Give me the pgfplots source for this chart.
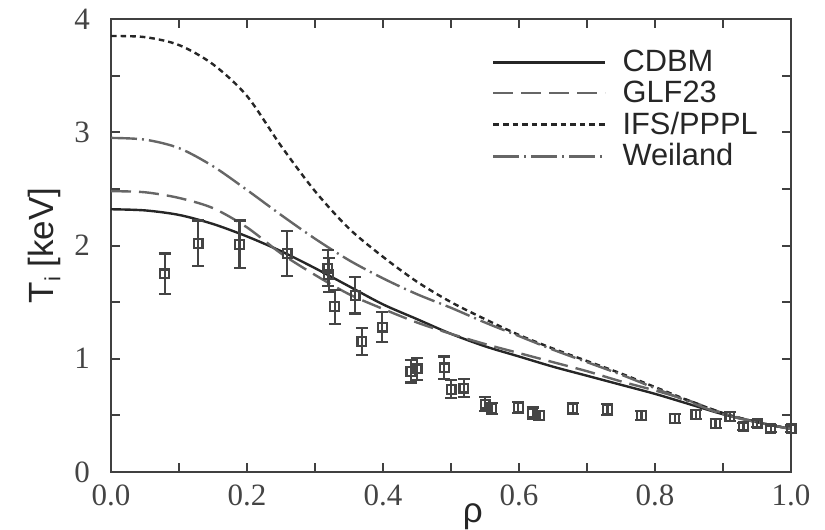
\documentclass[border=0pt]{standalone}
\usepackage{pgfplots}
\pgfplotsset{compat=1.18}
\usepackage{fontspec}
\setmainfont{Liberation Sans}
\newfontfamily\tickfont{Liberation Serif}
\definecolor{axgray}{HTML}{404040}
\definecolor{lblack}{HTML}{262626}
\definecolor{lgray}{HTML}{666666}
\definecolor{mgray}{HTML}{444444}

\pgfplotstableread{
x y
0.00 2.32
0.05 2.31
0.10 2.27
0.15 2.19
0.20 2.08
0.25 1.95
0.30 1.80
0.35 1.64
0.40 1.48
0.45 1.35
0.50 1.22
0.55 1.11
0.60 1.02
0.65 0.93
0.70 0.85
0.75 0.77
0.80 0.69
0.85 0.60
0.90 0.51
0.95 0.44
1.00 0.38
}\cdbm

\pgfplotstableread{
x y
0.00 2.48
0.05 2.47
0.10 2.42
0.15 2.33
0.20 2.16
0.25 1.93
0.30 1.74
0.35 1.57
0.40 1.44
0.45 1.32
0.50 1.22
0.55 1.13
0.60 1.05
0.65 0.97
0.70 0.89
0.75 0.80
0.80 0.72
0.85 0.63
0.90 0.52
0.95 0.44
1.00 0.38
}\glf

\pgfplotstableread{
x y
0.00 3.85
0.05 3.84
0.10 3.77
0.15 3.60
0.20 3.32
0.25 2.88
0.30 2.48
0.35 2.15
0.40 1.90
0.45 1.68
0.50 1.50
0.55 1.35
0.60 1.21
0.65 1.09
0.70 0.98
0.75 0.87
0.80 0.75
0.85 0.63
0.90 0.52
0.95 0.44
1.00 0.38
}\ifs

\pgfplotstableread{
x y
0.00 2.95
0.05 2.935
0.10 2.86
0.15 2.70
0.20 2.49
0.25 2.27
0.30 2.06
0.35 1.87
0.40 1.71
0.45 1.57
0.50 1.45
0.55 1.32
0.60 1.20
0.65 1.08
0.70 0.97
0.75 0.86
0.80 0.74
0.85 0.62
0.90 0.51
0.95 0.44
1.00 0.38
}\weiland

\pgfplotstableread{
x y e
0.079 1.75 0.18
0.128 2.02 0.20
0.189 2.01 0.21
0.259 1.93 0.20
0.319 1.80 0.16
0.320 1.74 0.15
0.329 1.46 0.15
0.359 1.56 0.16
0.369 1.15 0.12
0.399 1.28 0.13
0.441 0.89 0.10
0.450 0.91 0.10
0.490 0.92 0.10
0.500 0.73 0.08
0.519 0.74 0.08
0.550 0.60 0.06
0.560 0.56 0.05
0.599 0.57 0.05
0.620 0.52 0.05
0.630 0.50 0.04
0.679 0.56 0.05
0.730 0.55 0.05
0.780 0.50 0.04
0.829 0.47 0.04
0.860 0.51 0.04
0.889 0.43 0.04
0.910 0.49 0.04
0.930 0.40 0.03
0.950 0.43 0.03
0.970 0.38 0.03
1.000 0.38 0.03
}\meas

\begin{document}
\begin{tikzpicture}
\path[use as bounding box] (-55.5pt,-29pt) rectangle (357pt,236pt);
\begin{axis}[
  scale only axis, width=340pt, height=226.5pt,
  xmin=0, xmax=1, ymin=0, ymax=4,
  xtick={0,0.2,0.4,0.6,0.8,1.0},
  xticklabels={0.0,0.2,0.4,0.6,0.8,1.0},
  minor xtick={0.1,0.3,0.5,0.7,0.9},
  ytick={0,1,2,3,4},
  yticklabels={0,1,2,3,4},
  minor ytick={0.5,1.5,2.5,3.5},
  tick align=inside,
  major tick length=4.5pt, minor tick length=4.5pt,
  tick style={axgray, line width=1pt},
  axis line style={axgray, line width=1.3pt},
  /pgf/number format/assume math mode=true,
  ticklabel style={font=\tickfont\fontsize{15.5}{16}\selectfont, text=mgray},
  xticklabel style={yshift=-3pt},
  yticklabel style={xshift=-7pt},
  xlabel={ρ},
  ylabel={T\raisebox{-0.4ex}{\fontsize{11}{11}\selectfont i} [keV]},
  label style={font=\fontsize{17.5}{18}\selectfont, text=lblack},
  xlabel style={at={(axis description cs:0.532,-0.099)}, anchor=center},
  ylabel style={at={(axis description cs:-0.0985,0.5)}, anchor=center},
  legend cell align=left,
  legend style={draw=none, fill=none, at={(axis description cs:0.56,0.941)}, anchor=north west,
    font=\fontsize{15.4}{15.4}\selectfont, text=lblack, row sep=-0.8pt,
    inner sep=0pt, nodes={inner sep=2pt}},
  legend image code/.code={\draw[#1] (0pt,0pt) -- (56pt,0pt); \path (62pt,0pt);},
]
\addplot[lblack, line width=1.2pt, smooth] table[x=x,y=y]{\cdbm};
\addlegendentry{CDBM}
\addplot[lgray, line width=1.2pt, smooth, dash pattern=on 10pt off 4pt] table[x=x,y=y]{\glf};
\addlegendentry{GLF23}
\addplot[lblack, line width=1.2pt, smooth, dash pattern=on 2.8pt off 2pt] table[x=x,y=y]{\ifs};
\addlegendentry{IFS/PPPL}
\addplot[lgray, line width=1.2pt, smooth, dash pattern=on 13pt off 2.5pt on 1pt off 2.5pt] table[x=x,y=y]{\weiland};
\addlegendentry{Weiland}
\addplot[mgray, only marks, mark=square, mark size=2.2pt, line width=1.1pt,
  error bars/.cd, y dir=both, y explicit,
  error mark options={mgray, mark size=3pt, rotate=90, line width=1.1pt},
  error bar style={mgray, line width=1.1pt}]
  table[x=x,y=y,y error=e]{\meas};
\end{axis}
\end{tikzpicture}
\end{document}
